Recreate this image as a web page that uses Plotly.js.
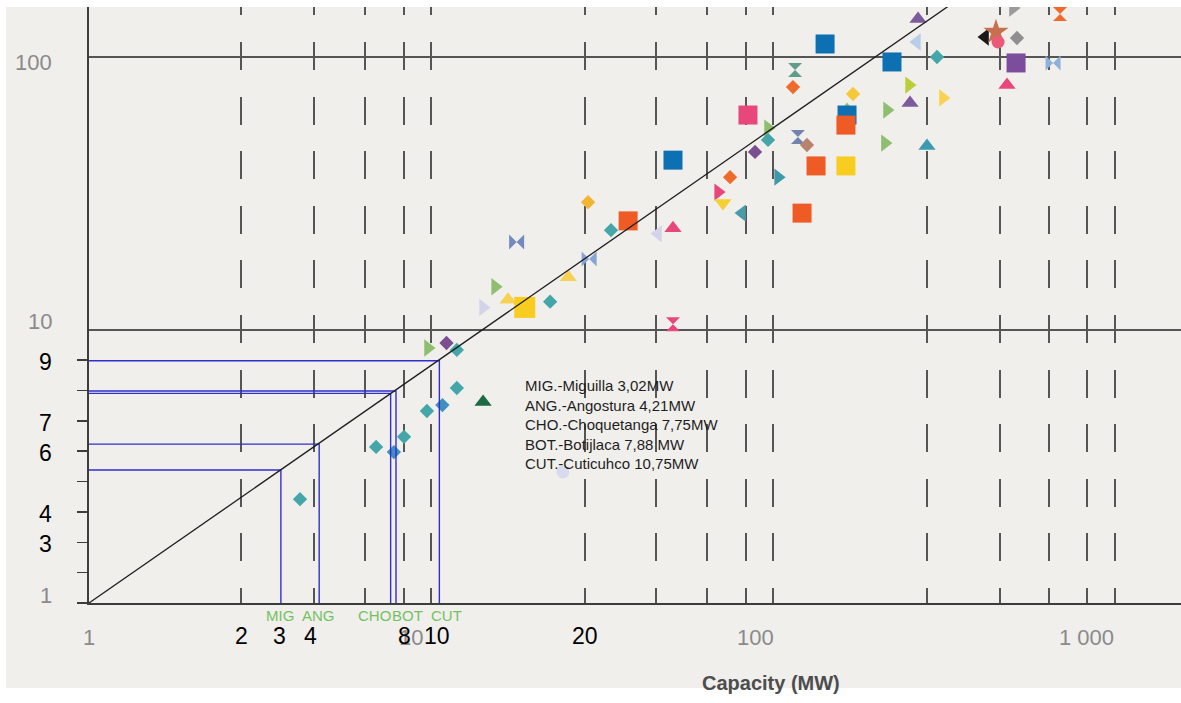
<!DOCTYPE html>
<html><head><meta charset="utf-8">
<script src="https://cdn.plot.ly/plotly-3.0.1.min.js"></script>
<style>html,body{margin:0;padding:0;background:#fff;}#chart{width:1181px;height:703px;}</style>
</head><body><div id="chart"></div>
<script>
// ---------- data ----------
// squares
const sqX = [37.7, 51.0, 84.5, 18.8, 121.6, 133.6, 164.6, 163.4, 163.4, 142, 222.8, 513.7];
const sqY = [25.1, 41.9, 61.3, 12.1, 26.8, 39.9, 61.3, 56.3, 39.9, 111.6, 95.9, 95.1];
// diamonds
const dmX = [4.14, 6.91, 7.79, 8.34, 9.73, 10.8, 11.9, 11.1, 11.9, 22.3, 28.8, 33.6, 74.9, 88.6, 96.7, 114.4, 125.7, 171.4, 301.7, 516.9];
const dmY = [2.40, 3.73, 3.57, 4.06, 5.05, 5.31, 6.13, 8.96, 8.45, 12.7, 29.4, 23.2, 36.3, 44.9, 49.7, 77.6, 47.6, 73.2, 100, 117.4];
// triangles up
const tuX = [14.2, 16.8, 25.2, 51.0, 164.6, 251.6, 265.5, 282, 483.3];
const tuY = [5.45, 12.9, 15.6, 23.6, 65.6, 67.9, 137.8, 47.2, 78.9];
// triangles right
const trX = [9.80, 14.2, 15.4, 69.1, 96.7, 103.5, 212.5, 215.4, 249.9, 314, 503.3];
const trY = [8.59, 12.1, 14.4, 32.0, 54.9, 36.3, 48.4, 63.9, 78.9, 70.8, 151.2];
// triangles left
const tlX = [46.1, 81.2, 263.6, 416.9];
const tlY = [22.5, 26.8, 113.5, 118.4];
// triangle down
const tdX = [71.4];
const tdY = [29.2];
// bowties
const bwX = [17.8, 29.0, 659];
const bwY = [21.0, 18.2, 95.1];
// hourglasses
const hgX = [51.0, 116, 118.3, 690.6];
const hgY = [10.5, 89.6, 50.9, 143.7];
// star and circles
const stX = [448.7];
const stY = [123.5];
const ciX = [24.3, 455];
const ciY = [3.02, 113.5];
// reference diagonal
const refX = [1, 400];
const refY = [1, 183.6];
// plants (blue reading lines)
const plantCodes = ['MIG', 'ANG', 'CHO', 'BOT', 'CUT'];
const plantX = [3.64, 4.71, 7.62, 7.90, 10.58];
const plantY = [3.07, 3.82, 5.86, 5.98, 7.72];
const legendLines = ['MIG.-Miguilla 3,02MW', 'ANG.-Angostura 4,21MW', 'CHO.-Choquetanga 7,75MW', 'BOT.-Botijlaca 7,88 MW', 'CUT.-Cuticuhco 10,75MW'];
// axis gridlines / ticks
const xGridVals = [2.78, 4.55, 6.41, 8.34, 10, 28.2, 45.5, 64.1, 83.4, 100, 282, 461, 641, 828, 1000];
const yGridVals = [10, 100];
const yOverlayTicks = [1, 2, 3, 4, 5, 6, 7, 8, 9];
const yOverlayLabels = ['', '', '3', '4', '', '6', '7', '', '9'];
const xOverlayLabels = ['2', '3', '4', '8', '10', '20'];
const yOrigLabels = ['100', '10', '1'];
const xOrigLabels = ['1', '10', '100', '1 000'];

// ---------- styles ----------
const C = {teal:'#45a6aa', bteal:'#3f90bf', purple:'#7b4f8f', orange:'#ef5b25', blue:'#0d70b3', pink:'#e8477b',
  yellow:'#f8cd1f', green:'#8fbe70', lime:'#bccd3c', lav:'#d3d4ea', dgreen:'#1c6943', gray:'#959595',
  brown:'#b7836f', oy:'#f3b431', ylight:'#f7d153', black:'#1a1a1a', pblue:'#b9cde6'};
const sqColor = [C.orange, C.blue, C.pink, C.yellow, C.orange, C.orange, C.blue, C.orange, C.yellow, C.blue, C.blue, '#7d4c9c'];
const sqSize = sqX.map((_, i) => i === 3 ? 21 : 19);
const dmColor = [C.teal, C.teal, C.bteal, C.teal, C.teal, C.bteal, C.teal, C.purple, C.teal, C.teal, C.oy, C.teal, '#ee6b2c', C.purple, C.teal, '#ee6b2c', C.brown, '#f5c83a', C.teal, '#8f8f8f'];
const tuColor = [C.dgreen, C.ylight, C.ylight, C.pink, C.green, '#7b5b9b', '#7b5b9b', '#3d9bb0', C.pink];
const tuSize = tuX.map((_, i) => i === 4 ? 9 : 15);
const trColor = [C.green, C.lav, C.green, C.pink, C.green, '#3d9aa8', C.green, C.green, C.lime, '#f8d250', '#9a9a9a'];
const tlColor = [C.lav, '#4a9aa8', C.pblue, C.black];
const tdColor = ['#f5d030'];
const bwColor = ['#7489bd', '#86a5d6', '#8fb0d8'];
const hgColor = [C.pink, '#5f9c8c', '#7184ad', '#ef6a2a'];
const stColor = ['#c8704e'];
const ciColor = ['#d8dbef', '#ea5a78'];

// ---------- geometry helpers (pixel -> paper) ----------
const L = 89, T = 7, PW = 1092, PH = 596;
const pX = p => (p - L) / PW;
const pY = p => (T + PH - p) / PH;

function mk(x, y, symbol, color, size) {
  return {x, y, type:'scatter', mode:'markers', hoverinfo:'skip', cliponaxis:true,
    marker:{symbol, color, size, opacity:1, line:{width:0}}};
}
const traces = [
  mk(tuX, tuY, 'triangle-up', tuColor, tuSize),
  mk(trX, trY, 'triangle-right', trColor, 15),
  mk(tlX, tlY, 'triangle-left', tlColor, 15),
  mk(tdX, tdY, 'triangle-down', tdColor, 15),
  mk(bwX, bwY, 'bowtie', bwColor, 15),
  mk(hgX, hgY, 'hourglass', hgColor, 14),
  mk(stX, stY, 'star', stColor, 19),
  mk(dmX, dmY, 'diamond', dmColor, 11),
  mk(ciX, ciY, 'circle', ciColor, 13),
  mk(sqX, sqY, 'square', sqColor, sqSize)
];
plantCodes.forEach((c, i) => {
  traces.push({x:[1, plantX[i], plantX[i]], y:[plantY[i], plantY[i], 1], type:'scatter', mode:'lines',
    hoverinfo:'skip', line:{color:'#2f2fd0', width:1.4}});
});
traces.push({x:refX, y:refY, type:'scatter', mode:'lines', hoverinfo:'skip', line:{color:'#1e1e1e', width:1.3}});
traces.push({x:yOverlayTicks.map(() => 1), y:yOverlayTicks, yaxis:'y2', type:'scatter', mode:'markers',
  hoverinfo:'skip', marker:{opacity:0}});

const gridDash = ['8.4px', '26.6px'].concat(Array(11).fill('28px,26.6px')).join(',');

const ann = [];
const blackFont = {family:'Liberation Sans, Arial, sans-serif', size:23, color:'#000'};
const grayFont = {family:'Liberation Sans, Arial, sans-serif', size:22, color:'#8a8a8a'};
// original gray y labels
const yOrigPos = [63, 321, 595];
yOrigLabels.forEach((t, i) => ann.push({text:t, xref:'paper', yref:'paper', x:pX(54), y:pY(yOrigPos[i]),
  xanchor:'right', yanchor:'middle', showarrow:false, font:grayFont}));
// original gray x labels
const xOrigPos = [97, 425, 776, 1116];
xOrigLabels.forEach((t, i) => ann.push({text:t, xref:'paper', yref:'paper', x:pX(xOrigPos[i]), y:pY(637),
  xanchor:'right', yanchor:'middle', showarrow:false, font:grayFont}));
// overlay black x labels
const xOverlayPos = [241, 279, 310, 404, 437, 585];
xOverlayLabels.forEach((t, i) => ann.push({text:t, xref:'paper', yref:'paper', x:pX(xOverlayPos[i]), y:pY(636),
  xanchor:'center', yanchor:'middle', showarrow:false, font:blackFont}));
// overlay black y labels
yOverlayTicks.forEach((v, i) => { if (yOverlayLabels[i]) ann.push({text:yOverlayLabels[i], xref:'paper', yref:'y2',
  x:pX(54), y:v, yshift:-2, xanchor:'right', yanchor:'middle', showarrow:false, font:blackFont}); });
// green plant codes
const codePos = [280, 318, 374, 407, 446];
plantCodes.forEach((c, i) => ann.push({text:c, xref:'paper', yref:'paper', x:pX(codePos[i]), y:pY(615),
  xanchor:'center', yanchor:'middle', showarrow:false,
  font:{family:'Liberation Sans, Arial, sans-serif', size:15, color:'#74c163'}}));
// legend text block
ann.push({text:legendLines.join('<br>'), xref:'paper', yref:'paper', x:pX(523), y:pY(424), xanchor:'left',
  yanchor:'middle', align:'left', showarrow:false,
  font:{family:'Liberation Sans, Arial, sans-serif', size:15, color:'#1e1e1e'}});
// axis title
ann.push({text:'<b>Capacity (MW)</b>', xref:'paper', yref:'paper', x:pX(771), y:pY(683), xanchor:'center',
  yanchor:'middle', showarrow:false, font:{family:'Liberation Sans, Arial, sans-serif', size:20, color:'#4d4d4d'}});

const layout = {
  width:1181, height:703, margin:{l:L, r:0, t:T, b:703 - T - PH, pad:0},
  paper_bgcolor:'#ffffff', plot_bgcolor:'rgba(0,0,0,0)', showlegend:false,
  xaxis:{type:'log', range:[0, PW / 342], tickmode:'array', tickvals:xGridVals, showticklabels:false, ticks:'',
    showgrid:true, gridcolor:'#555555', gridwidth:2, griddash:gridDash, zeroline:false,
    showline:true, linecolor:'#3c3c3c', linewidth:2, fixedrange:true},
  yaxis:{type:'log', range:[0, PH / 273], tickmode:'array', tickvals:yGridVals, showticklabels:false, ticks:'',
    showgrid:true, gridcolor:'#555555', gridwidth:2.5, zeroline:false,
    showline:true, linecolor:'#3c3c3c', linewidth:2, fixedrange:true},
  yaxis2:{overlaying:'y', side:'left', anchor:'x', range:[1, 1 + PH / 30.375], tickmode:'array', tickvals:yOverlayTicks,
    showticklabels:false, ticks:'outside', ticklen:11, tickwidth:1.5, tickcolor:'#3c3c3c',
    showgrid:false, zeroline:false, showline:false, fixedrange:true},
  shapes:[{type:'rect', xref:'paper', yref:'paper', x0:pX(6), x1:1, y0:pY(688), y1:1,
    fillcolor:'#f1efec', line:{width:0}, layer:'below'}],
  annotations:ann
};
Plotly.newPlot('chart', traces, layout, {staticPlot:true, displayModeBar:false});
</script></body></html>
